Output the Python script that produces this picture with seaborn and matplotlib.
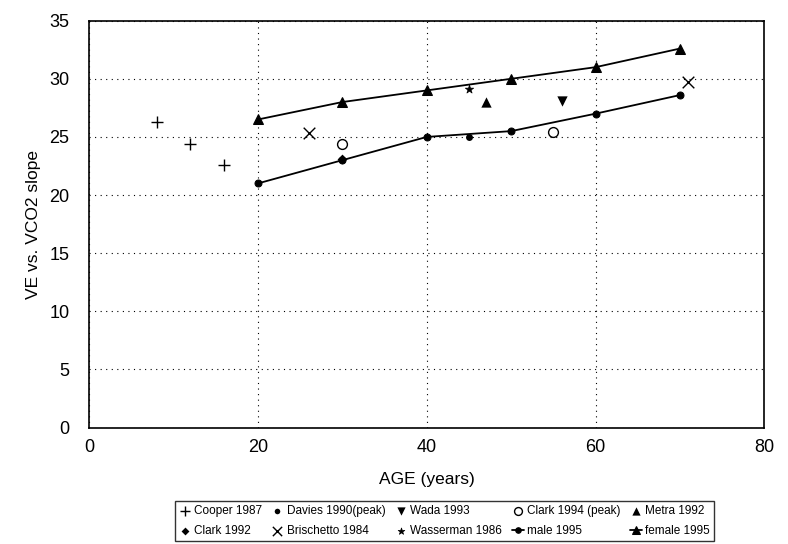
import pandas as pd
import seaborn as sns
import matplotlib.pyplot as plt
import numpy as np

sns.set_style("white")
plt.rcParams['font.family'] = ['Liberation Sans', 'DejaVu Sans']
plt.rcParams['text.color'] = 'black'
plt.rcParams['axes.labelcolor'] = 'black'
plt.rcParams['xtick.color'] = 'black'
plt.rcParams['ytick.color'] = 'black'

# single studies
cooper_age = [8, 12, 16]
cooper_slope = [26.3, 24.4, 22.6]
davies_age = [45]
davies_slope = [25.0]
wada_age = [56]
wada_slope = [28.1]
clark94_age = [30, 55]
clark94_slope = [24.4, 25.4]
metra_age = [47]
metra_slope = [28.0]
clark92_age = [30]
clark92_slope = [23.1]
brisch_age = [26, 71]
brisch_slope = [25.3, 29.7]
wasser_age = [45]
wasser_slope = [29.1]

# 1995 reference lines
ref_age = [20, 30, 40, 50, 60, 70]
male_slope = [21.0, 23.0, 25.0, 25.5, 27.0, 28.6]
female_slope = [26.5, 28.0, 29.0, 30.0, 31.0, 32.6]

fig = plt.figure(figsize=(7.88, 5.44), dpi=100)
ax = fig.add_axes([0.113, 0.214, 0.857, 0.748])

def pts(age, slope, marker, size, label, fill='black', lw=0.0):
    sns.scatterplot(x=age, y=slope, marker=marker, s=size, color=fill,
                    edgecolor='black', linewidth=lw, label=label, ax=ax, zorder=3)

sns.lineplot(x=ref_age, y=male_slope, color='black', lw=1.3, marker='o',
             markersize=5, markeredgecolor='black', label='male 1995', ax=ax, zorder=2)
sns.lineplot(x=ref_age, y=female_slope, color='black', lw=1.3, marker='^',
             markersize=7, markeredgecolor='black', label='female 1995', ax=ax, zorder=2)

pts(cooper_age, cooper_slope, '+', 80, 'Cooper 1987', lw=1.0)
pts(davies_age, davies_slope, 'o', 25, 'Davies 1990(peak)')
pts(wada_age, wada_slope, 'v', 55, 'Wada 1993')
pts(clark94_age, clark94_slope, 'o', 50, 'Clark 1994 (peak)', fill='white', lw=1.0)
pts(metra_age, metra_slope, '^', 55, 'Metra 1992')
pts(clark92_age, clark92_slope, 'D', 25, 'Clark 1992')
pts(brisch_age, brisch_slope, 'x', 70, 'Brischetto 1984', lw=1.0)
pts(wasser_age, wasser_slope, '*', 40, 'Wasserman 1986', lw=0.5)

ax.set_xlim(0, 80)
ax.set_ylim(0, 35)
ax.set_xticks(np.arange(0, 81, 20))
ax.set_yticks(np.arange(0, 36, 5))
ax.grid(True, color='black', linestyle=(0, (1, 4)), linewidth=0.8)
for s in ax.spines.values():
    s.set_color('black')
    s.set_linewidth(1.2)
ax.tick_params(labelsize=13, length=0)
ax.tick_params(axis='y', pad=14)
ax.tick_params(axis='x', pad=8)
ax.set_xlabel('AGE (years)', fontsize=12.5, labelpad=12)
ax.set_ylabel('VE vs. VCO2 slope', fontsize=12.5, labelpad=6)

handles, labels = ax.get_legend_handles_labels()
ax.legend_.remove()
lookup = dict(zip(labels, handles))
order = ['Cooper 1987', 'Clark 1992', 'Davies 1990(peak)', 'Brischetto 1984',
         'Wada 1993', 'Wasserman 1986', 'Clark 1994 (peak)', 'male 1995',
         'Metra 1992', 'female 1995']
leg = fig.legend([lookup[k] for k in order], order, loc='lower center',
                 bbox_to_anchor=(0.564, -0.005), ncol=5, fontsize=8.5,
                 frameon=True, fancybox=False, edgecolor='black',
                 handlelength=1.0, handletextpad=0.3, columnspacing=0.8,
                 borderpad=0.3, labelspacing=0.7, markerscale=0.8)
leg.get_frame().set_linewidth(1.0)

fig.savefig('out.png', dpi=100)
